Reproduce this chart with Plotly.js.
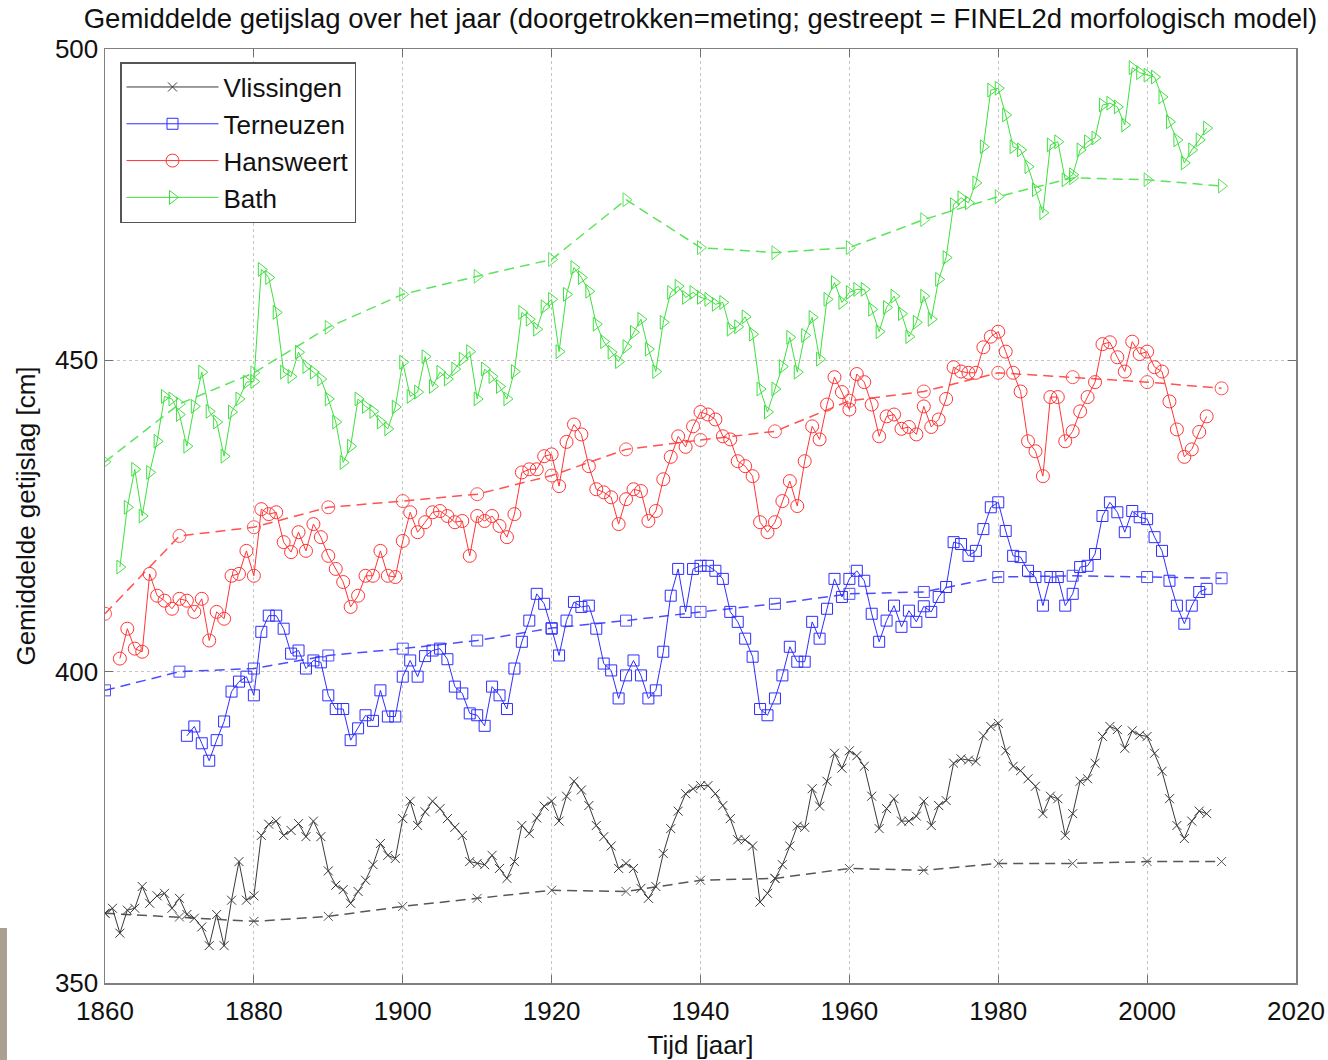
<!DOCTYPE html>
<html>
<head>
<meta charset="utf-8">
<script src="https://cdn.plot.ly/plotly-3.0.1.min.js"></script>
<style>html,body{margin:0;padding:0;background:#fff;}#chart{width:1328px;height:1060px;}</style>
</head>
<body>
<div id="chart"></div>
<script>
// ---- data ----
const vlissingenStart = 1860;
const vlissingen = [
  361.2, 362, 358, 361.7, 362, 365.5, 362.8, 364, 364.4, 362,
  363.6, 361, 360.4, 359, 356, 361, 356, 363.3, 369.5, 363.3,
  364, 373.7, 375.5, 376, 373.7, 374.5, 375.6, 373.5, 376, 373.5,
  368, 365.7, 365, 362.8, 364.7, 366.5, 369, 372.4, 370.5, 370,
  376.4, 379.2, 375.3, 377.5, 379.2, 378, 376.4, 375, 373.7, 369.5,
  369.2, 369, 370.5, 368.4, 366.8, 369.5, 375.3, 374, 376.5, 378.4,
  379.2, 376, 380, 382.4, 381, 378.5, 375.3, 373.5, 372, 368.4,
  369.2, 368.4, 365.2, 363.6, 365.5, 370.8, 374.8, 377.6, 380.4, 381.2,
  381.7, 381.7, 380.4, 378.5, 376.4, 373, 373, 372, 363, 364.4,
  366.8, 369, 372, 375.2, 375, 381.2, 378.4, 382.4, 386.9, 384.5,
  387.3, 386.5, 384.8, 380, 374.8, 378, 379.6, 376, 376, 376.8,
  379.2, 375.3, 378.5, 379.3, 385.3, 386, 385.8, 385.6, 389.7, 391.2,
  391.7, 387.3, 384.8, 384.1, 382.8, 381.6, 377.2, 380, 379.6, 373.7,
  377.2, 382.4, 382.8, 385.3, 389.6, 391.2, 390.7, 387.7, 390.5, 389.8,
  389.6, 386.9, 384, 379.6, 375.3, 373.2, 376, 377.6, 377.2
];
const terneuzenStart = 1871;
const terneuzen = [
  389.7, 391.2, 388.5, 385.7, 389, 392, 396.8, 398.4, 399.2, 396.2,
  406.4, 409, 409, 406.9, 402.9, 403.4, 400.5, 401.8, 401.5, 396.2,
  394, 394, 389, 390.9, 393, 392.1, 397, 392.8, 392.8, 399.2,
  401.8, 399.2, 402.5, 403.4, 403.7, 402, 397.6, 396.5, 393.3, 393,
  391.3, 397.6, 396.2, 394, 400.5, 404.8, 408.2, 412.5, 410.9, 406.9,
  402.6, 408.2, 411.2, 410.4, 410.6, 406.9, 401.3, 400.2, 395.7, 399.4,
  401.8, 399.4, 395.7, 397, 403.2, 412.2, 416.5, 409.6, 416.5, 417,
  417, 416.2, 414.9, 409.6, 408, 405.3, 402.4, 394, 393, 395.7,
  399.4, 404, 401.6, 401.6, 408, 405.3, 410.1, 414.9, 412, 414.9,
  416.2, 414.6, 409.3, 404.8, 408.2, 410.6, 407.2, 409.8, 408, 410.5,
  409.6, 412, 413.6, 420.8, 420.5, 418.6, 419.4, 422.9, 426.4, 427.2,
  422.6, 418.6, 418.4, 416.2, 415.2, 410.6, 415.2, 415.2, 410.6, 412.5,
  416.8, 417, 418.9, 425, 427.2, 425.6, 422.4, 425.8, 424.8, 424.5,
  421.6, 419.4, 414.6, 410.6, 407.7, 410.6, 412.8, 413.3
];
const hansweertStart = 1862;
const hansweert = [
  402.1, 406.9, 403.7, 403.2, 415.7, 412.2, 411.4, 410.1, 411.7,
  411.4, 409.6, 411.7, 405, 409.6, 408.5, 415.4, 415.7, 419.4, 415.4,
  426.1, 425.3, 425.6, 420.8, 419.2, 422.4, 419.4, 423.7, 421.6, 418.6,
  416.5, 414.4, 410.4, 412.2, 415.4, 415.4, 419.4, 415.4, 415.2, 421,
  425.6, 422.4, 424, 425.6, 425.8, 425, 424, 424.2, 418.6, 425,
  424.2, 425, 423.4, 421.6, 425.3, 432, 432.5, 432.5, 434.6, 434.9,
  429.8, 436.9, 439.7, 438.1, 433, 429.3, 428.8, 428, 423.7, 427.7,
  429.3, 429, 424.2, 425.8, 430.9, 434.5, 437.8, 436.1, 439.4, 441.7,
  441.3, 440.5, 437.8, 437.3, 433.8, 433, 431.4, 424, 422.4, 424,
  427.4, 430.6, 426.6, 433.8, 439.4, 437.3, 442.9, 447.3, 444.9, 442.1,
  447.8, 446.5, 442.9, 437.8, 441, 441.3, 439, 439.3, 438.1, 442.6,
  439.3, 440.5, 443.8, 448.9, 448.2, 448, 448, 452.1, 453.8, 454.6,
  451.4, 448, 445, 437, 435.4, 431.4, 444.1, 444.1, 437, 438.6,
  441.8, 444.1, 446.5, 452.6, 452.9, 450.5, 448.2, 453, 451, 451.4,
  448.9, 448.2, 443.4, 438.9, 434.5, 435.7, 438.5, 441
];
const bathStart = 1862;
const bath = [
  416.8, 426.4, 432.5, 425, 432, 437, 444.2, 443.8, 441.3,
  436.2, 442.6, 448.1, 441.8, 440.1, 434.6, 441.7, 443.8, 446.5, 446.6,
  464.6, 463.3, 457.7, 448.1, 447.4, 451.3, 449, 448.1, 447, 443.8,
  440.1, 433.6, 436.2, 443.8, 442.6, 441.8, 440.1, 439, 442.5, 449.7,
  444.2, 444.9, 450.6, 445.8, 448.1, 447, 448.6, 450.2, 451.4, 443.8,
  448.6, 447.4, 445.8, 443.8, 448.2, 457.7, 456.6, 455, 458.6, 459.8,
  451.4, 460.6, 464.9, 463.3, 461.1, 455.8, 453, 451.3, 449.8, 452.2,
  454.5, 456.6, 451.8, 448.2, 456.1, 460.9, 461.9, 460.1, 460.9, 460.1,
  459.8, 459, 459.3, 455, 455.4, 457, 454.2, 445.4, 441.7, 445.4,
  449, 453.7, 448.1, 454, 456.9, 450.2, 459.8, 462.5, 459.3, 460.9,
  461.4, 461.4, 458.2, 454.6, 458.5, 460.3, 457.5, 453.8, 456.1, 460.3,
  456.6, 463, 466.5, 475, 476.1, 475.3, 478.5, 484.3, 493.4, 493.7,
  489.4, 484.3, 483.8, 481.1, 477.4, 473.7, 484.6, 485.1, 479, 479.8,
  483.8, 485.1, 485.7, 491, 491.3, 490.7, 487.8, 497, 496.2, 495.8,
  495.5, 492.3, 488.3, 485.4, 481.7, 483.8, 485.4, 487.3
];
// model (FINEL2d) values
const modelYears = [1860, 1870, 1880, 1890, 1900, 1910, 1920, 1930, 1940, 1950, 1960, 1970, 1980, 1990, 2000, 2010];
const vlissingenModel = [361.2, 360.6, 359.9, 360.7, 362.3, 363.6, 364.9, 364.7, 366.5, 366.8, 368.4, 368.1, 369.2, 369.2, 369.5, 369.5];
const terneuzenModel  = [397, 400, 400.5, 402.6, 403.7, 405, 407, 408.2, 409.6, 410.9, 412.5, 412.8, 415.2, 415.4, 415.2, 415];
const hansweertModel  = [409.3, 421.8, 423.2, 426.4, 427.4, 428.5, 431.5, 435.7, 437.2, 438.6, 443.5, 445, 448, 447.3, 446.5, 445.5];
const bathModel       = [433.7, 443, 448, 455.3, 460.6, 463.5, 466.2, 475.8, 468.1, 467.3, 468.1, 472.6, 476.3, 479.3, 479, 478];

const stationNames = ['Vlissingen', 'Terneuzen', 'Hansweert', 'Bath'];
const xTicks = [1860, 1880, 1900, 1920, 1940, 1960, 1980, 2000, 2020];
const yTicks = [350, 400, 450, 500];

// ---- build traces ----
function yearsFrom(start, n) { const a = []; for (let i = 0; i < n; i++) a.push(start + i); return a; }

const styles = [
  {color: '#3a3a3a', symbol: 'x-thin-open', size: 9},
  {color: '#2e2eff', symbol: 'square-open', size: 11},
  {color: '#ff3535', symbol: 'circle-open', size: 13},
  {color: '#3fe03f', symbol: 'triangle-right-open', size: 12}
];
const measured = [
  [vlissingenStart, vlissingen],
  [terneuzenStart, terneuzen],
  [hansweertStart, hansweert],
  [bathStart, bath]
];
const models = [vlissingenModel, terneuzenModel, hansweertModel, bathModel];

const traces = [];
measured.forEach((m, i) => {
  const s = styles[i];
  traces.push({
    type: 'scatter', mode: 'lines+markers', name: stationNames[i],
    x: yearsFrom(m[0], m[1].length), y: m[1],
    line: {color: s.color, width: 1},
    marker: {symbol: s.symbol, size: s.size, color: s.color, line: {color: s.color, width: 1}}
  });
});
models.forEach((m, i) => {
  const s = styles[i];
  traces.push({
    type: 'scatter', mode: 'lines+markers', name: stationNames[i] + ' model', showlegend: false,
    x: modelYears, y: m, opacity: 0.85,
    line: {color: s.color, width: 1.5, dash: '10px,6px'},
    marker: {symbol: s.symbol, size: s.size, color: s.color, line: {color: s.color, width: 1}}
  });
});

const font = 'Liberation Sans, Arial, Helvetica, sans-serif';
const layout = {
  width: 1328, height: 1060,
  margin: {l: 105, r: 32, t: 49, b: 77},
  paper_bgcolor: '#ffffff', plot_bgcolor: '#ffffff',
  font: {family: font, size: 26, color: '#111'},
  title: {
    text: 'Gemiddelde getijslag over het jaar (doorgetrokken=meting; gestreept = FINEL2d morfologisch model)',
    font: {family: font, size: 27.5, color: '#111'},
    x: 0.5, xref: 'paper', xanchor: 'center',
    y: 0.983, yref: 'container', yanchor: 'middle'
  },
  xaxis: {
    range: [1860, 2020], tickvals: xTicks, ticktext: xTicks.map(String),
    showgrid: true, gridcolor: '#c4c4c4', griddash: 'dot', gridwidth: 1,
    zeroline: false, showline: true, linecolor: '#808080', linewidth: 1.5, mirror: 'ticks',
    ticks: 'inside', ticklen: 8, tickcolor: '#707070',
    ticklabelstandoff: 4,
    tickfont: {family: font, size: 26, color: '#111'},
    title: {text: 'Tijd [jaar]', font: {family: font, size: 26, color: '#111'}, standoff: 12}
  },
  yaxis: {
    range: [350, 500], tickvals: yTicks, ticktext: yTicks.map(String),
    showgrid: true, gridcolor: '#c4c4c4', griddash: 'dot', gridwidth: 1,
    zeroline: false, showline: true, linecolor: '#808080', linewidth: 1.5, mirror: 'ticks',
    ticks: 'inside', ticklen: 8, tickcolor: '#707070',
    tickfont: {family: font, size: 26, color: '#111'},
    title: {text: 'Gemiddelde getijslag [cm]', font: {family: font, size: 26, color: '#111'}, standoff: 12}
  },
  legend: {
    x: 0.0126, y: 0.986, xanchor: 'left', yanchor: 'top',
    bgcolor: '#ffffff', bordercolor: '#555', borderwidth: 1.5,
    font: {family: font, size: 26, color: '#111'},
    itemwidth: 92, tracegroupgap: 0
  },
  showlegend: true,
  shapes: [{
    type: 'rect', xref: 'paper', yref: 'paper',
    x0: -0.0882, x1: -0.0823, y0: -0.0824, y1: 0.0589,
    fillcolor: '#aaa091', line: {width: 0}, layer: 'above'
  }]
};

Plotly.newPlot('chart', traces, layout, {displayModeBar: false, staticPlot: true});
</script>
</body>
</html>
